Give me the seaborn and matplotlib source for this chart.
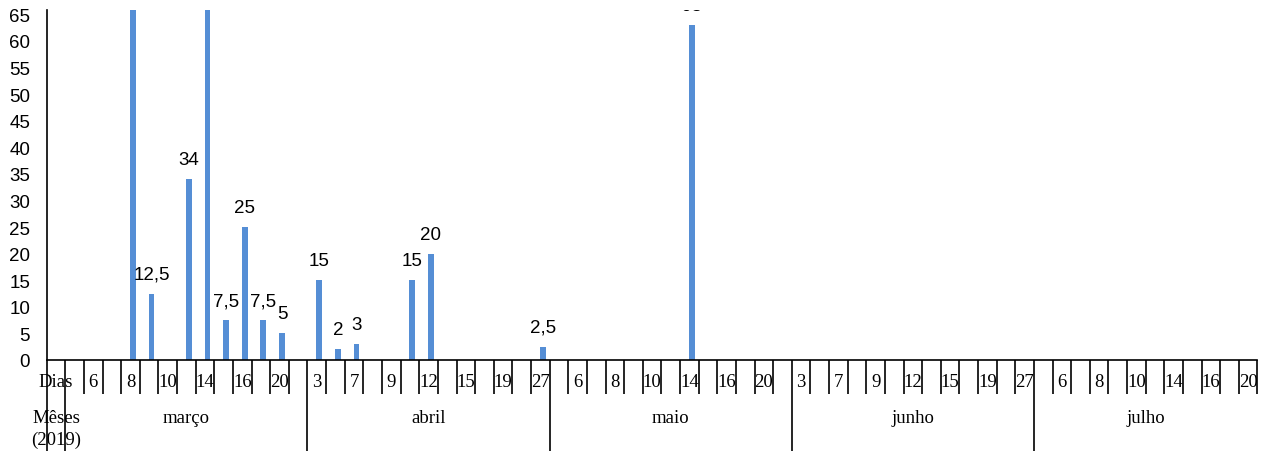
import matplotlib
matplotlib.use("Agg")
import matplotlib.pyplot as plt
import matplotlib.transforms as mtransforms
import seaborn as sns
import pandas as pd

# ---------------- data ----------------
# one entry per day-cell of the category axis (first cell is the header column)
day_labels = ["Dias", "", "6", "", "8", "", "10", "", "14", "", "16", "", "20", "",
              "3", "", "7", "", "9", "", "12", "", "15", "", "19", "", "27",
              "", "6", "", "8", "", "10", "", "14", "", "16", "", "20", "",
              "3", "", "7", "", "9", "", "12", "", "15", "", "19", "", "27",
              "", "6", "", "8", "", "10", "", "14", "", "16", "", "20"]
months = ["março", "abril", "maio", "junho", "julho"]
month_cells = [13, 13, 13, 13, 12]          # number of day-cells per month
header_month = ["Mêses", "(2019)"]

values = [0, 0, 0, 0, 70, 12.5, 0, 34, 70, 7.5, 25, 7.5, 5, 0,
          15, 2, 3, 0, 0, 15, 20, 0, 0, 0, 0, 0, 2.5,
          0, 0, 0, 0, 0, 0, 0, 63, 0, 0, 0, 0, 0,
          0, 0, 0, 0, 0, 0, 0, 0, 0, 0, 0, 0, 0,
          0, 0, 0, 0, 0, 0, 0, 0, 0, 0, 0, 0]
y_ticks = list(range(0, 70, 5))

# ---------------- style ----------------
sns.set_style("white")
plt.rcParams["font.family"] = ["Liberation Sans", "DejaVu Sans"]
SERIF = ["Liberation Serif", "DejaVu Serif"]
BAR = "#558ED5"

W, H = 1270, 452
fig = plt.figure(figsize=(W / 100, H / 100), dpi=100)
ax_left, ax_right, ax_bottom, ax_top = 46.7, 1257.5, 361, 11
ax = fig.add_axes([ax_left / W, (H - ax_bottom) / H,
                   (ax_right - ax_left) / W, (ax_bottom - ax_top) / H])

cell_ids = [f"c{i}" for i in range(len(day_labels))]
df = pd.DataFrame({"cell": cell_ids, "valor": values})
sns.barplot(data=df, x="cell", y="valor", order=cell_ids, color=BAR,
            saturation=1, width=0.31, ax=ax, errorbar=None, linewidth=0)

# small right offset of bars as in the original
for p in ax.patches:
    p.set_x(p.get_x() + 0.13)

def fmt(v):
    return (f"{v:g}").replace(".", ",")

ymax = (ax_bottom - ax_top) / 5.317
for i, v in enumerate(values):
    if 0 < v < ymax:
        ax.annotate(fmt(v), (i + 0.13, v), xytext=(0, 14), textcoords="offset points",
                    ha="center", va="center", fontsize=13.5, color="black",
                    annotation_clip=False, clip_on=True)

ax.set_xlim(-0.5, len(day_labels) - 0.5)
ax.set_ylim(0, ymax)
ax.set_yticks(y_ticks)
ax.set_yticklabels([str(t) for t in y_ticks])
ax.set_xlabel("")
ax.set_ylabel("")
ax.set_xticks(range(len(day_labels)))
ax.set_xticklabels([])
ax.tick_params(axis="x", direction="in", length=3, width=1.1, color="black")
ax.tick_params(axis="y", direction="out", length=4, width=1.1, color="black",
               pad=8, labelsize=13.5, labelcolor="black")
for s in ["top", "right"]:
    ax.spines[s].set_visible(False)
for s in ["left", "bottom"]:
    ax.spines[s].set_color("black")
    ax.spines[s].set_linewidth(1.2)

# ---------------- table under the axis ----------------
trans = mtransforms.blended_transform_factory(ax.transData, ax.transAxes)
ah = ax_bottom - ax_top

def ay(px):
    return -(px - ax_bottom) / ah

month_bounds = [1]
for n in month_cells:
    month_bounds.append(month_bounds[-1] + n)
long_bounds = set([0, 1] + month_bounds[1:-1])

for b in range(len(day_labels) + 1):
    x = b - 0.5
    ylow = ay(452) if b in long_bounds else ay(395)
    ax.plot([x, x], [0, ylow], transform=trans, color="black", lw=1.2,
            clip_on=False, solid_capstyle="butt")

for i, lab in enumerate(day_labels):
    if lab:
        ax.text(i, ay(383), lab, transform=trans, ha="center", va="center",
                fontsize=13.5, family=SERIF, color="black")

for m, b0, b1 in zip(months, month_bounds[:-1], month_bounds[1:]):
    ax.text((b0 + b1) / 2 - 0.5, ay(419), m, transform=trans, ha="center",
            va="center", fontsize=13.5, family=SERIF, color="black")

ax.text(0, ay(419), header_month[0], transform=trans, ha="center", va="center",
        fontsize=13.5, family=SERIF, color="black")
ax.text(0, ay(440), header_month[1], transform=trans, ha="center", va="center",
        fontsize=13.5, family=SERIF, color="black")

fig.savefig("out.png", dpi=100)
